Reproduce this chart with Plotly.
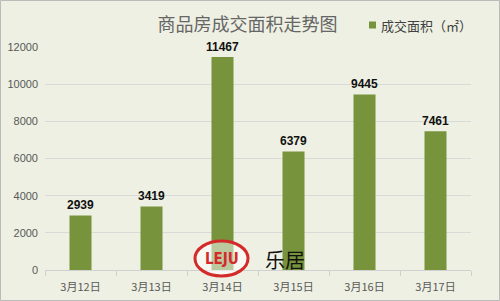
import plotly.graph_objects as go

categories = ["3月12日", "3月13日", "3月14日", "3月15日", "3月16日", "3月17日"]
values = [2939, 3419, 11467, 6379, 9445, 7461]
y_ticks = [0, 2000, 4000, 6000, 8000, 10000, 12000]
series_name = "成交面积（㎡）"
title_text = "商品房成交面积走势图"

bg = "#EDF0E2"
green = "#77933C"
fig = go.Figure()
fig.add_trace(go.Bar(
    x=categories, y=values, name=series_name,
    marker=dict(color=green, line=dict(width=0)),
    width=0.31,
    text=[str(v) for v in values], textposition="outside",
    constraintext="none",
    textfont=dict(family="Liberation Sans", size=12, color="#111111"),
    texttemplate="<b>%{text}</b>", cliponaxis=False,
))

fig.update_layout(
    width=500, height=301,
    margin=dict(l=45, r=29, t=47, b=31, autoexpand=False),
    paper_bgcolor=bg, plot_bgcolor=bg,
    showlegend=False,
    title=dict(text=title_text, x=0.495, xanchor="center", y=0.917, yanchor="middle",
               font=dict(family="Noto Sans CJK SC", size=18, color="#666666")),
    xaxis=dict(type="category", showgrid=False, showline=True, linecolor="#D0D0D0",
               ticks="outside", ticklen=5, tickcolor="#D0D0D0", tickson="boundaries",
               ticklabelstandoff=7,
               tickfont=dict(family="Noto Sans CJK SC", size=11, color="#595959")),
    yaxis=dict(range=[0, 12000], tickvals=y_ticks, ticktext=[str(t) for t in y_ticks],
               showgrid=True, gridcolor="#D9D9D9",
               zeroline=False, showline=False, ticks="", ticklabelstandoff=6,
               tickfont=dict(family="Liberation Sans", size=11, color="#595959")),
    font=dict(family="Noto Sans CJK SC"),
)

# legend (drawn manually)
fig.add_shape(type="rect", xref="paper", yref="paper",
              x0=(369-45)/426, x1=(376-45)/426, y0=(270-28.5)/223, y1=(270-21.5)/223,
              line=dict(width=0), fillcolor=green)
fig.add_annotation(xref="paper", yref="paper", x=(379-45)/426, y=(270-26)/223,
                   xanchor="left", yanchor="middle", text=series_name, showarrow=False,
                   font=dict(family="Noto Sans CJK SC", size=13, color="#404040"))

# border of the chart area
fig.add_shape(type="rect", xref="paper", yref="paper", x0=-44.5/426, x1=(499.5-45)/426,
              y0=-30.5/223, y1=(270-0.5)/223, line=dict(color="#BBBBBB", width=1))

# watermark logo
fig.add_shape(type="circle", xref="paper", yref="paper",
              x0=(195-45)/426, x1=(248-45)/426, y0=(270-276)/223, y1=(270-241)/223,
              line=dict(color="#D42A2A", width=3), fillcolor="rgba(255,255,255,0.5)")
fig.add_annotation(xref="paper", yref="paper", x=(221.5-45)/426, y=(270-258.5)/223,
                   xanchor="center", yanchor="middle",
                   text="<b>LEJU</b>", showarrow=False,
                   font=dict(family="DejaVu Sans Condensed", size=15, color="#D42A2A"))
fig.add_annotation(xref="paper", yref="paper", x=(285-45)/426, y=(270-259)/223,
                   xanchor="center", yanchor="middle",
                   text="乐居", showarrow=False,
                   font=dict(family="Noto Sans CJK SC", size=20, color="#111111"))

fig.write_html("out.html")
